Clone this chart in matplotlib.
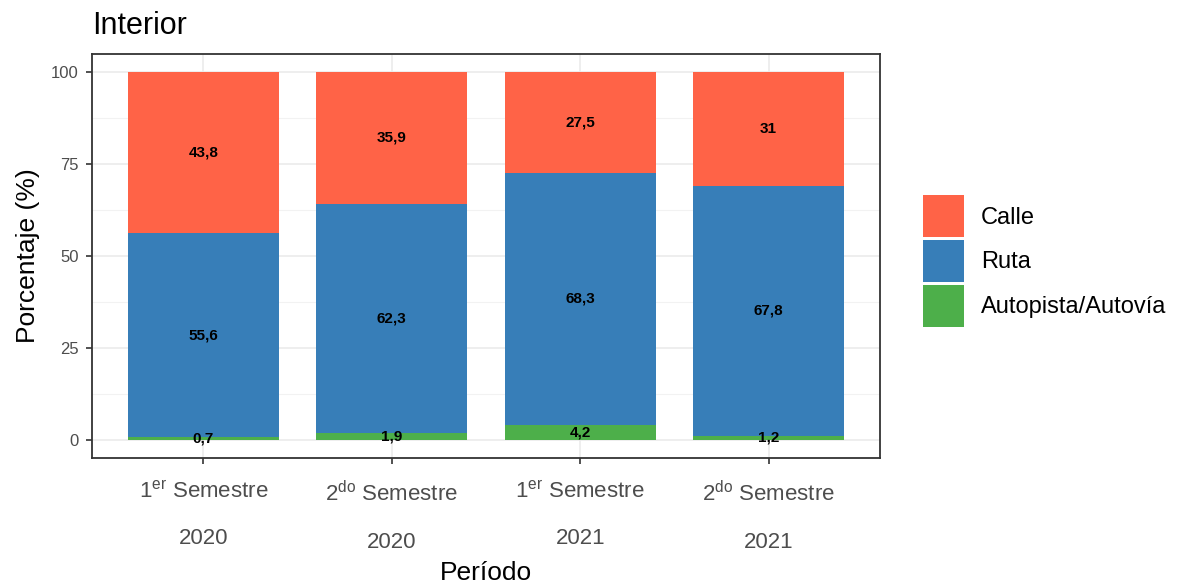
import numpy as np
import matplotlib.pyplot as plt
from matplotlib.patches import Patch
from matplotlib.ticker import MultipleLocator

plt.rcParams['font.family'] = ['Liberation Sans', 'DejaVu Sans']
plt.rcParams['mathtext.fontset'] = 'custom'
plt.rcParams['mathtext.rm'] = 'Liberation Sans'
plt.rcParams['mathtext.it'] = 'Liberation Sans'

# data
periodos = [r"1$^{er}$ Semestre" + "\n2020", r"2$^{do}$ Semestre" + "\n2020",
            r"1$^{er}$ Semestre" + "\n2021", r"2$^{do}$ Semestre" + "\n2021"]
autopista = [0.7, 1.9, 4.2, 1.2]
ruta = [55.6, 62.3, 68.3, 67.8]
calle = [43.8, 35.9, 27.5, 31.0]

series = [("Autopista/Autovía", autopista, "#4DAF4A"),
          ("Ruta", ruta, "#377EB8"),
          ("Calle", calle, "#FF6347")]

fig = plt.figure(figsize=(11.81, 5.87), dpi=100)
ax = fig.add_axes([0.078, 0.219, 0.667, 0.6896])

x = np.arange(1, len(periodos) + 1)
bottom = np.zeros(len(x))
for name, vals, col in series:
    vals = np.array(vals)
    ax.bar(x, vals, width=0.8, bottom=bottom, color=col, zorder=2)
    for xi, b, v in zip(x, bottom, vals):
        ax.text(xi, b + v / 2, f"{v:g}".replace('.', ','), ha='center', va='center',
                fontsize=11, fontweight='bold', color='black', zorder=3)
    bottom += vals

ax.set_xlim(0.41, 4.59)
ax.set_ylim(-5, 105)
ax.yaxis.set_major_locator(MultipleLocator(25))
ax.yaxis.set_minor_locator(MultipleLocator(12.5))
ax.set_xticks(x)
ax.set_xticklabels(periodos, fontsize=16, color='#4D4D4D', linespacing=2.6)
ax.tick_params(axis='y', labelsize=12, labelcolor='#4D4D4D', pad=5)
ax.tick_params(axis='both', which='major', length=4.5, width=1.2, color='#333333')
ax.tick_params(axis='x', pad=12)
ax.tick_params(axis='y', which='minor', length=0)

ax.grid(True, which='major', color='#EBEBEB', linewidth=1.2, zorder=0)
ax.grid(True, which='minor', axis='y', color='#F2F2F2', linewidth=0.8, zorder=0)
ax.set_axisbelow(True)
for s in ax.spines.values():
    s.set_color('#333333')
    s.set_linewidth(1.3)

ax.set_xlabel("Período", fontsize=19, labelpad=6)
ax.set_ylabel("Porcentaje (%)", fontsize=19, labelpad=8)
ax.set_title("Interior", loc='left', fontsize=22, pad=14)

handles = [Patch(facecolor=col, label=name) for name, _, col in reversed(series)]
fig.legend(handles=handles, loc='center left', bbox_to_anchor=(0.7815, 0.555),
           frameon=False, fontsize=17, handlelength=1.75, handleheight=2.36,
           labelspacing=0.12, borderpad=0, borderaxespad=0, handletextpad=0.7)

fig.savefig("out.png", dpi=100)
